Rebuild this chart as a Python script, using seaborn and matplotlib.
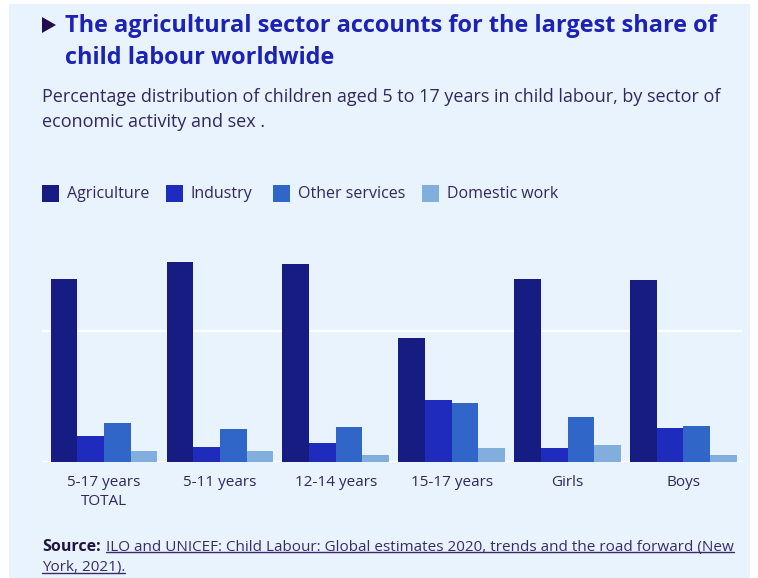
import matplotlib
matplotlib.use("Agg")
import matplotlib.pyplot as plt
import seaborn as sns
import pandas as pd
from matplotlib.patches import Rectangle, Polygon
from matplotlib.lines import Line2D

# ---------------- data ----------------
groups = ["5-17 years\nTOTAL", "5-11 years", "12-14 years", "15-17 years", "Girls", "Boys"]
sectors = ["Agriculture", "Industry", "Other services", "Domestic work"]
agriculture = [70.0, 76.4, 75.6, 47.4, 70.0, 69.7]
industry = [10.1, 5.7, 7.4, 23.7, 5.4, 13.0]
other_services = [15.0, 12.6, 13.4, 22.6, 17.1, 13.7]
domestic_work = [4.3, 4.3, 2.7, 5.4, 6.5, 2.7]

title_lines = ["The agricultural sector accounts for the largest share of",
               "child labour worldwide"]
subtitle_lines = ["Percentage distribution of children aged 5 to 17 years in child labour, by sector of",
                  "economic activity and sex ."]
source_label = "Source:"
source_lines = ["ILO and UNICEF: Child Labour: Global estimates 2020, trends and the road forward (New",
                "York, 2021)."]

colors = ["#161c82", "#1e2bbd", "#3166c9", "#81aedd"]
BG = "#e8f3fd"
TITLE_C = "#1c22b5"
TEXT_C = "#33275f"
SRC_C = "#3a2a6a"

sns.set_theme(style="white")
plt.rcParams["font.family"] = ["Open Sans", "DejaVu Sans"]

W, H = 758, 578
fig = plt.figure(figsize=(W / 100, H / 100), dpi=100)
fig.patch.set_facecolor("white")


def fx(x):
    return x / W


def fy(y):
    return 1 - y / H


fig.add_artist(Rectangle((fx(9), 0), fx(750) - fx(9), fy(4), transform=fig.transFigure,
                         facecolor=BG, edgecolor="none", zorder=-10))

df = pd.DataFrame({
    "group": groups * 4,
    "sector": [s for s in sectors for _ in groups],
    "value": agriculture + industry + other_services + domestic_work,
})

ax = fig.add_axes([fx(42), fy(462), fx(742) - fx(42), fy(253) - fy(462)])
ax.set_facecolor("none")
sns.barplot(data=df, x="group", y="value", hue="sector", hue_order=sectors, order=groups,
            palette=colors, saturation=1, width=0.92, gap=0, legend=False, ax=ax,
            linewidth=0, zorder=2)
ax.set_xlim(-0.535, 5.505)
ax.set_ylim(0, 80)
ax.axhline(50, color="white", lw=1.6, zorder=0)
ax.axhline(0, color="white", lw=1.6, zorder=1)
for s in ax.spines.values():
    s.set_visible(False)
ax.set_yticks([])
ax.set_xlabel("")
ax.set_ylabel("")
ax.tick_params(axis="x", length=0, pad=9, labelsize=11, labelcolor=TEXT_C)
for lab in ax.get_xticklabels():
    lab.set_linespacing(1.4)

renderer = fig.canvas.get_renderer()


def fit(t, target_w):
    w = t.get_window_extent(renderer).width
    t.set_fontsize(t.get_fontsize() * target_w / w)
    return t


# title
fig.add_artist(Polygon([[fx(42), fy(17)], [fx(42), fy(33)], [fx(56), fy(25)]], closed=True,
                       transform=fig.transFigure, facecolor="#1f0d4d", edgecolor="none"))
t1 = fig.text(fx(65), fy(26), title_lines[0], fontsize=17, fontweight="bold", color=TITLE_C,
              va="center", ha="left")
fit(t1, 717 - 65)
fig.text(fx(65), fy(58), title_lines[1], fontsize=t1.get_fontsize(), fontweight="bold",
         color=TITLE_C, va="center", ha="left")

# subtitle
s1 = fig.text(fx(42), fy(97), subtitle_lines[0], fontsize=13, color=TEXT_C, va="center", ha="left")
fit(s1, 721 - 42)
fig.text(fx(42), fy(122), subtitle_lines[1], fontsize=s1.get_fontsize(), color=TEXT_C,
         va="center", ha="left")

# legend
leg_sq = [42, 166, 273, 422]
for x0, name, c in zip(leg_sq, sectors, colors):
    fig.add_artist(Rectangle((fx(x0), fy(202)), fx(17), 17 / H, transform=fig.transFigure,
                             facecolor=c, edgecolor="none"))
    fig.text(fx(x0 + 25), fy(193.5), name, fontsize=11.5, color=TEXT_C, va="center", ha="left")

# source
sl = fig.text(fx(42), fy(547), source_label, fontsize=11.5, fontweight="bold", color="#1e1540",
              va="center", ha="left")
sb = sl.get_window_extent(renderer)
gap_px = 5
sr = fig.text((sb.x1 + gap_px) / W, fy(547), source_lines[0], fontsize=11.5, color=SRC_C,
              va="center", ha="left")
fit(sr, 735 - sb.x1 - gap_px)
sr2 = fig.text(fx(42), fy(568), source_lines[1], fontsize=sr.get_fontsize(), color=SRC_C,
               va="center", ha="left")
for t in (sr, sr2):
    bb = t.get_window_extent(renderer)
    yline = bb.y0 + bb.height * 0.17
    fig.add_artist(Line2D([bb.x0 / W, bb.x1 / W], [yline / H, yline / H], transform=fig.transFigure,
                          color=SRC_C, lw=1))

fig.savefig("out.png", dpi=100, facecolor=fig.get_facecolor())
